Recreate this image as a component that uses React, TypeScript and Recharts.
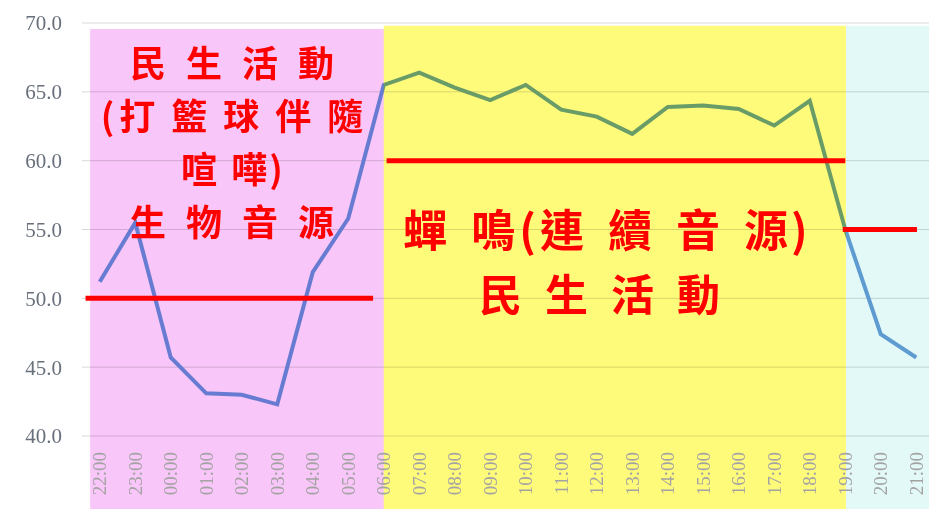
import React from "react";
import {
  LineChart, Line, XAxis, YAxis, CartesianGrid,
  ReferenceArea, ReferenceLine,
} from "recharts";

const hours = [
  "22:00", "23:00", "00:00", "01:00", "02:00", "03:00", "04:00", "05:00",
  "06:00", "07:00", "08:00", "09:00", "10:00", "11:00", "12:00", "13:00",
  "14:00", "15:00", "16:00", "17:00", "18:00", "19:00", "20:00", "21:00",
];

const levels = [
  51.2, 55.5, 45.7, 43.1, 43.0, 42.3, 51.9, 55.8,
  65.5, 66.4, 65.3, 64.4, 65.5, 63.7, 63.2, 61.95,
  63.9, 64.0, 63.75, 62.55, 64.35, 55.0, 47.4, 45.7,
];

const yTicks = [40, 45, 50, 55, 60, 65, 70];

// background periods (index range on the hour axis)
const periods = [
  { from: -0.27, to: 8, top: 69.56, fill: "#F8C6F8" },
  { from: 8, to: 21.02, top: 69.8, fill: "#FFFB7A" },
  { from: 21.02, to: 23.5, top: 69.8, fill: "#E2F9F7" },
];

const refLevels = [
  { from: -0.4, to: 7.7, level: 50 },
  { from: 8.08, to: 21.0, level: 60 },
  { from: 20.93, to: 23.02, level: 55 },
];

const data = hours.map((h, i) => ({ i, hour: h, db: levels[i] }));

const HourTick = (props: any) => {
  const { x, y, payload } = props;
  const ty = y + 8;
  return (
    <text
      x={x}
      y={ty}
      transform={`rotate(-90, ${x}, ${ty})`}
      textAnchor="end"
      dominantBaseline="central"
      fill="#a3a3a3"
      fontSize={19}
      fontFamily="'Liberation Serif', serif"
    >
      {hours[payload.value]}
    </text>
  );
};

const redText: React.CSSProperties = {
  position: "absolute",
  color: "#FF0000",
  fontFamily: "'Noto Sans CJK TC', sans-serif",
  fontWeight: 700,
  textAlign: "center",
  whiteSpace: "nowrap",
  pointerEvents: "none",
};

export default function App() {
  return (
    <div
      style={{
        position: "absolute", left: 0, top: 0, width: 929, height: 509,
        overflow: "hidden", background: "#fff",
      }}
    >
      <style>{`.recharts-reference-area-rect { mix-blend-mode: multiply; }`}</style>
      <LineChart
        width={940}
        height={509}
        data={data}
        margin={{ top: 23, right: 6, bottom: 0, left: 0 }}
      >
        <CartesianGrid vertical={false} stroke="#d9d9d9" />
        <XAxis
          dataKey="i"
          type="number"
          domain={[-0.5, 23.5]}
          ticks={hours.map((_, i) => i)}
          interval={0}
          axisLine={false}
          tickLine={false}
          tick={<HourTick />}
          height={73}
        />
        <YAxis
          domain={[40, 70]}
          ticks={yTicks}
          width={82}
          axisLine={false}
          tickLine={false}
          tickMargin={14}
          tickFormatter={(v) => Number(v).toFixed(1)}
          tick={{ fill: "#68707c", fontSize: 21, fontFamily: "'Liberation Serif', serif" }}
        />
        <Line
          type="linear"
          dataKey="db"
          stroke="#6A9FD8"
          strokeWidth={4}
          dot={false}
          isAnimationActive={false}
        />
        {periods.map((p) => (
          <ReferenceArea
            key={p.fill}
            x1={p.from}
            x2={p.to}
            y1={34}
            y2={p.top}
            fill={p.fill}
            fillOpacity={1}
            stroke="none"
            ifOverflow="visible"
            zIndex={600}
          />
        ))}
        {refLevels.map((r) => (
          <ReferenceLine
            key={r.level}
            segment={[{ x: r.from, y: r.level }, { x: r.to, y: r.level }]}
            stroke="#FF0000"
            strokeWidth={5}
            ifOverflow="visible"
            zIndex={700}
          />
        ))}
      </LineChart>

      {/* night period notes */}
      <div style={{ ...redText, left: 82, width: 300, top: 35, fontSize: 36, lineHeight: "53px" }}>
        <div style={{ letterSpacing: 20, paddingLeft: 20 }}>民生活動</div>
        <div style={{ paddingLeft: 16 }}>
          <span style={{ letterSpacing: 5 }}>(</span>
          <span style={{ letterSpacing: 16 }}>打籃球伴隨</span>
        </div>
        <div style={{ paddingLeft: 2 }}>
          <span style={{ letterSpacing: 14 }}>喧</span>
          <span style={{ letterSpacing: 2 }}>嘩)</span>
        </div>
        <div style={{ letterSpacing: 20, paddingLeft: 20 }}>生物音源</div>
      </div>

      {/* day period notes */}
      <div style={{ ...redText, left: 387, width: 440, top: 196, fontSize: 44, lineHeight: "64px" }}>
        <span style={{ letterSpacing: 24 }}>蟬</span>
        <span style={{ letterSpacing: 4 }}>鳴(</span>
        <span style={{ letterSpacing: 24 }}>連續音</span>
        <span style={{ letterSpacing: 3 }}>源)</span>
      </div>
      <div style={{ ...redText, left: 368, width: 440, top: 260, fontSize: 43, lineHeight: "64px", letterSpacing: 23, paddingLeft: 23 }}>
        民生活動
      </div>
    </div>
  );
}
